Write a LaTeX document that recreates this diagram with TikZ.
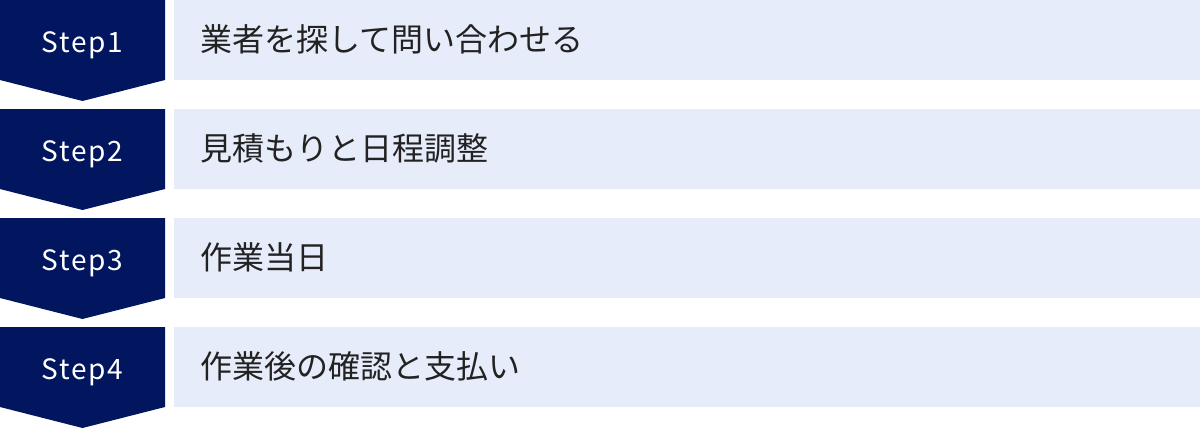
\documentclass[tikz,border=0pt]{standalone}
\usepackage{fontspec}
\setmainfont{Noto Sans CJK JP}
\newfontfamily\stepfont[LetterSpace=6]{Noto Sans CJK JP}
\definecolor{navy}{HTML}{021660}
\definecolor{pale}{HTML}{E6ECF9}
\definecolor{ink}{HTML}{222222}
\begin{document}
\begin{tikzpicture}[x=1pt,y=-1pt,
  steplabel/.style={text=white,font=\stepfont\fontsize{28}{32}\selectfont,inner sep=0pt,anchor=base},
  panel/.style={fill=pale,minimum width=1026pt,minimum height=80pt,inner sep=0pt,anchor=north west},
  task/.style={text=ink,font=\fontsize{32}{38}\selectfont,inner sep=0pt,anchor=base west}]
\useasboundingbox (0,0) rectangle (1200,429);
\foreach \i/\t in {1/業者を探して問い合わせる,2/見積もりと日程調整,3/作業当日,4/作業後の確認と支払い}{
  \pgfmathsetmacro{\Y}{109*(\i-1)}
  \fill[navy] (0,\Y) -- (165,\Y) -- (165,\Y+80) -- (82.5,\Y+101) -- (0,\Y+80) -- cycle;
  \node[steplabel] (s\i) at (82.5,\Y+52) {Step\i};
  \node[panel] (p\i) at (174,\Y) {};
  \node[task] (t\i) at (200,\Y+51) {\t};
}
\end{tikzpicture}
\end{document}
